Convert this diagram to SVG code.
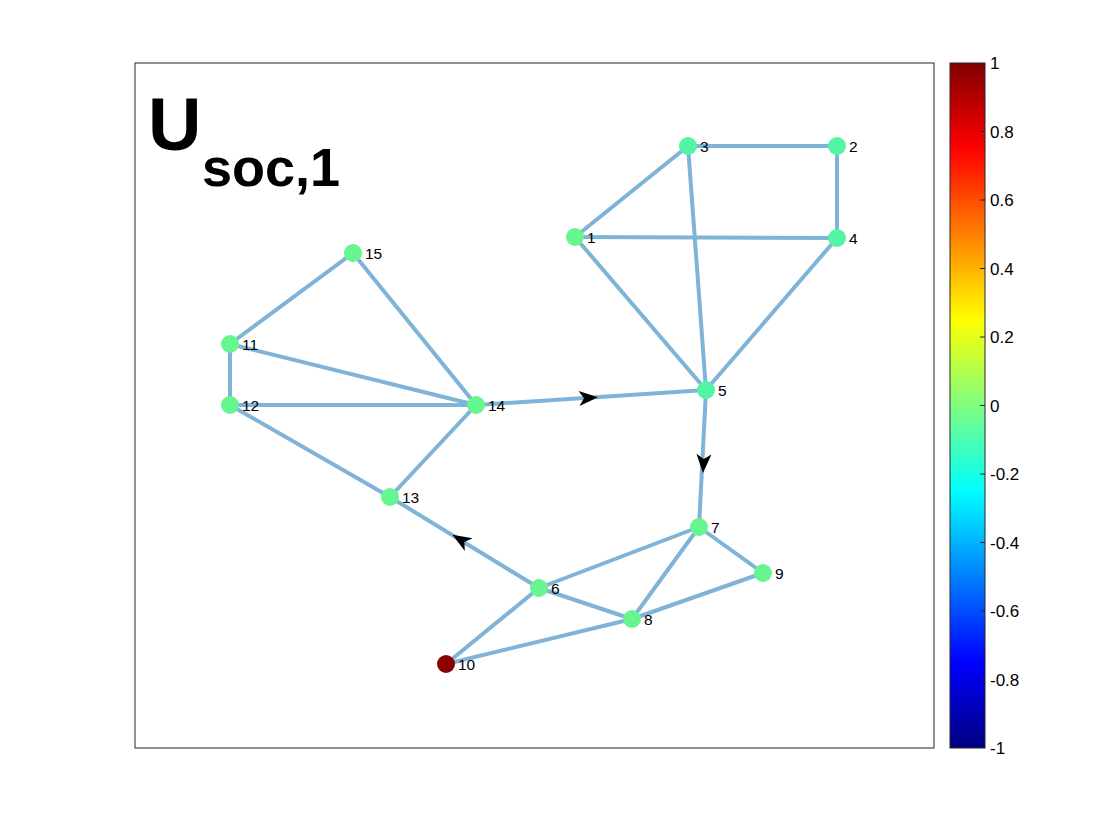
<svg xmlns="http://www.w3.org/2000/svg" width="1120" height="840" viewBox="0 0 1120 840">
<defs>
<linearGradient id="jet" x1="0" y1="0" x2="0" y2="1">
<stop offset="0" stop-color="#800000"/>
<stop offset="0.125" stop-color="#ff0000"/>
<stop offset="0.375" stop-color="#ffff00"/>
<stop offset="0.625" stop-color="#00ffff"/>
<stop offset="0.875" stop-color="#0000ff"/>
<stop offset="1" stop-color="#000080"/>
</linearGradient>
<path id="ah" d="M10,0 L-9,-7.5 L-4,0 L-9,7.5 Z" fill="#000"/>
</defs>
<style>
.e{stroke:#7fb3d8;stroke-width:4;fill:none;stroke-linecap:round}
.n{stroke:none}
.g{fill:#66f58e}
.c{fill:#52f4a6}
.r{fill:#8b0000}
.l{font-family:"Liberation Sans",Arial,sans-serif;font-size:15.5px;fill:#000}
.t{font-family:"Liberation Sans",Arial,sans-serif;font-size:17px;fill:#000}
</style>
<rect width="1120" height="840" fill="#fff"/>
<rect x="135" y="63" width="799" height="685" fill="#fff" stroke="#262626" stroke-width="1"/>
<text x="148" y="150" font-family="'Liberation Sans',Arial,sans-serif" font-weight="bold" font-size="74">U</text>
<text x="202" y="186" font-family="'Liberation Sans',Arial,sans-serif" font-weight="bold" font-size="54">soc,1</text>
<g id="connectors">
<line class="e" x1="575" y1="237" x2="688" y2="146"/>
<line class="e" x1="688" y1="146" x2="837" y2="146"/>
<line class="e" x1="837" y1="146" x2="837" y2="238"/>
<line class="e" x1="575" y1="237" x2="837" y2="238"/>
<line class="e" x1="575" y1="237" x2="706" y2="390"/>
<line class="e" x1="688" y1="146" x2="706" y2="390"/>
<line class="e" x1="837" y1="238" x2="706" y2="390"/>
<line class="e" x1="476" y1="405" x2="706" y2="390"/>
<line class="e" x1="706" y1="390" x2="699" y2="527"/>
<line class="e" x1="353" y1="253" x2="230" y2="344"/>
<line class="e" x1="353" y1="253" x2="476" y2="405"/>
<line class="e" x1="230" y1="344" x2="230" y2="405"/>
<line class="e" x1="230" y1="344" x2="476" y2="405"/>
<line class="e" x1="230" y1="405" x2="476" y2="405"/>
<line class="e" x1="230" y1="405" x2="390" y2="497"/>
<line class="e" x1="390" y1="497" x2="476" y2="405"/>
<line class="e" x1="539" y1="588" x2="390" y2="497"/>
<line class="e" x1="539" y1="588" x2="699" y2="527"/>
<line class="e" x1="539" y1="588" x2="632" y2="619"/>
<line class="e" x1="539" y1="588" x2="446" y2="664"/>
<line class="e" x1="699" y1="527" x2="632" y2="619"/>
<line class="e" x1="699" y1="527" x2="763" y2="573"/>
<line class="e" x1="632" y1="619" x2="763" y2="573"/>
<line class="e" x1="632" y1="619" x2="446" y2="664"/>
<use href="#ah" transform="translate(588,398) rotate(-3.7)"/>
<use href="#ah" transform="translate(703.5,463) rotate(92.9)"/>
<use href="#ah" transform="translate(461,540) rotate(211.4)"/>
</g>
<g id="node1"><circle class="n g" cx="575" cy="237" r="9"/><text class="l" x="587" y="243">1</text></g>
<g id="node2"><circle class="n c" cx="837" cy="146" r="9"/><text class="l" x="849" y="152">2</text></g>
<g id="node3"><circle class="n c" cx="688" cy="146" r="9"/><text class="l" x="700" y="152">3</text></g>
<g id="node4"><circle class="n c" cx="837" cy="238" r="9"/><text class="l" x="849" y="244">4</text></g>
<g id="node5"><circle class="n c" cx="706" cy="390" r="9"/><text class="l" x="718" y="396">5</text></g>
<g id="node6"><circle class="n g" cx="539" cy="588" r="9"/><text class="l" x="551" y="594">6</text></g>
<g id="node7"><circle class="n g" cx="699" cy="527" r="9"/><text class="l" x="711" y="533">7</text></g>
<g id="node8"><circle class="n g" cx="632" cy="619" r="9"/><text class="l" x="644" y="625">8</text></g>
<g id="node9"><circle class="n g" cx="763" cy="573" r="9"/><text class="l" x="775" y="579">9</text></g>
<g id="node10"><circle class="n r" cx="446" cy="664" r="9"/><text class="l" x="458" y="670">10</text></g>
<g id="node11"><circle class="n g" cx="230" cy="344" r="9"/><text class="l" x="242" y="350">11</text></g>
<g id="node12"><circle class="n g" cx="230" cy="405" r="9"/><text class="l" x="242" y="411">12</text></g>
<g id="node13"><circle class="n g" cx="390" cy="497" r="9"/><text class="l" x="402" y="503">13</text></g>
<g id="node14"><circle class="n g" cx="476" cy="405" r="9"/><text class="l" x="488" y="411">14</text></g>
<g id="node15"><circle class="n g" cx="353" cy="253" r="9"/><text class="l" x="365" y="259">15</text></g>
<g id="colorbar">
<rect x="950" y="63" width="35" height="685" fill="url(#jet)" stroke="#262626" stroke-width="1"/>
<g stroke="#262626" stroke-width="1">
<line x1="980" y1="131.5" x2="985" y2="131.5"/>
<line x1="980" y1="200" x2="985" y2="200"/>
<line x1="980" y1="268.5" x2="985" y2="268.5"/>
<line x1="980" y1="337" x2="985" y2="337"/>
<line x1="980" y1="405.5" x2="985" y2="405.5"/>
<line x1="980" y1="474" x2="985" y2="474"/>
<line x1="980" y1="542.5" x2="985" y2="542.5"/>
<line x1="980" y1="611" x2="985" y2="611"/>
<line x1="980" y1="679.5" x2="985" y2="679.5"/>
</g>
<text class="t" x="990" y="69">1</text>
<text class="t" x="990" y="137.5">0.8</text>
<text class="t" x="990" y="206">0.6</text>
<text class="t" x="990" y="274.5">0.4</text>
<text class="t" x="990" y="343">0.2</text>
<text class="t" x="990" y="411.5">0</text>
<text class="t" x="990" y="480">-0.2</text>
<text class="t" x="990" y="548.5">-0.4</text>
<text class="t" x="990" y="617">-0.6</text>
<text class="t" x="990" y="685.5">-0.8</text>
<text class="t" x="990" y="754">-1</text>
</g>
</svg>
